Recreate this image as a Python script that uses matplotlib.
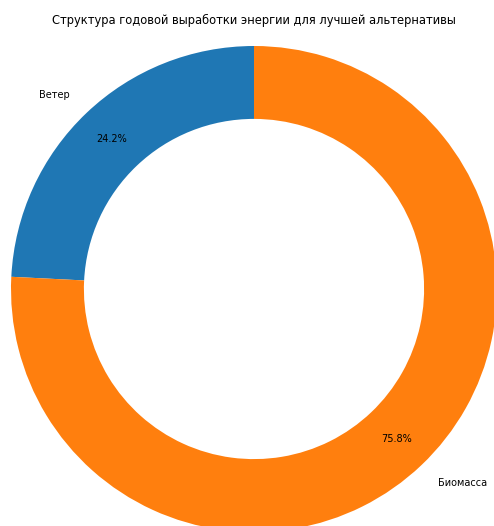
import matplotlib
matplotlib.use('Agg')
import matplotlib.pyplot as plt

# ---------- annual energy output by source --------------------------------
sources = ['Ветер', 'Биомасса']
shares = [24.2, 75.8]
colours = ['#1f77b4', '#ff7f0e']

title = 'Структура годовой выработки энергии для лучшей альтернативы'

# ---------- figure ---------------------------------------------------------
W, H = 494, 526
fig = plt.figure(figsize=(W / 100, H / 100), dpi=100)

cx, cy, r = 254, 289, 243   # pixel centre and outer radius of the ring
ax = fig.add_axes([(cx - r) / W, (H - cy - r) / H, 2 * r / W, 2 * r / H])

ax.pie(shares, labels=sources, colors=colours, autopct='%1.1f%%',
       startangle=90, pctdistance=0.85, labeldistance=1.1,
       wedgeprops=dict(width=0.3, linewidth=0),
       textprops=dict(fontsize=7))
ax.set_xlim(-1, 1)
ax.set_ylim(-1, 1)
ax.set_aspect('equal')
ax.axis('off')

fig.text(cx / W, 1 - 20 / H, title, ha='center', va='center', fontsize=8.3)

fig.savefig('out.png', dpi=100)
